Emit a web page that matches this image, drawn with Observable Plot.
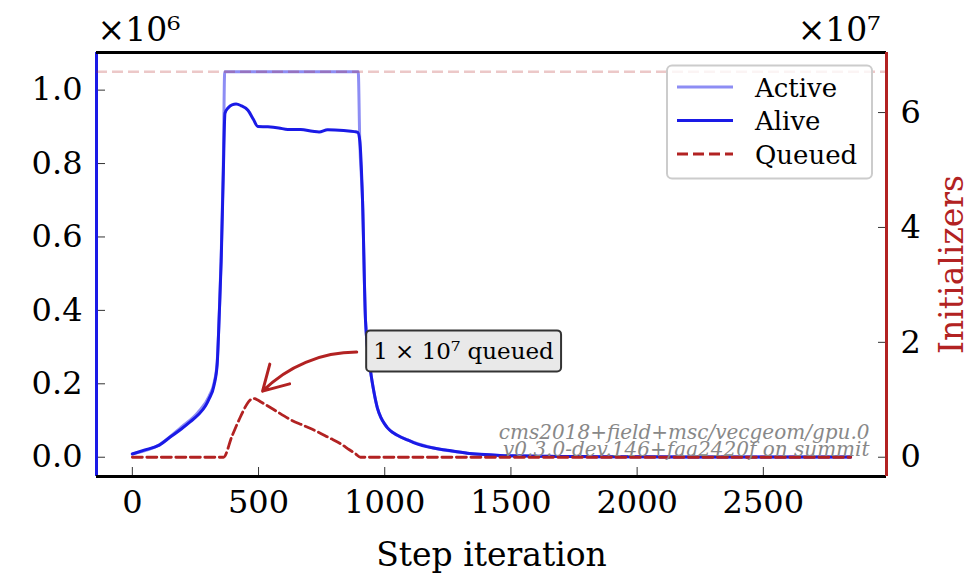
<!DOCTYPE html>
<html><head><meta charset="utf-8">
<script src="https://cdn.jsdelivr.net/npm/d3@7"></script>
<script src="https://cdn.jsdelivr.net/npm/@observablehq/plot@0.6"></script>
<style>
body{margin:0;background:#fff;}
#wrap{position:relative;width:980px;height:574px;overflow:hidden;}
#wrap svg{position:absolute;left:0;top:0;}
</style></head><body><div id="wrap"></div>
<script>
// ---- data ----
const aliveSteps = [0,50,107,150,194,230,260,290,304,324,336,345,352,360,367,380,395,411,430,458,480,497,537,580,616,667,714,740,774,837,880,893,901,912,924,944,958,971,985,1000,1011,1030,1050,1090,1114,1193,1248,1327,1378,1457,1509,1600,1700,1850,2000,2200,2400,2600,2846];
const aliveVals  = [0.009,0.020,0.033,0.055,0.077,0.097,0.115,0.140,0.159,0.197,0.252,0.400,0.534,0.760,0.937,0.952,0.960,0.962,0.958,0.945,0.920,0.901,0.900,0.897,0.893,0.893,0.888,0.886,0.892,0.890,0.887,0.885,0.863,0.700,0.370,0.234,0.175,0.134,0.108,0.090,0.080,0.068,0.060,0.047,0.040,0.025,0.019,0.011,0.008,0.005,0.004,0.003,0.002,0.0015,0.001,0.0008,0.0006,0.0005,0.0005];
const activeSteps = [0,107,194,260,304,324,336,345,352,360,366,895,901,912,924,944,958,971,985,1000,1011,1050,1090,1193,1327,1457,1600,1850,2200,2600,2846];
const activeVals  = [0.009,0.034,0.082,0.122,0.166,0.203,0.258,0.400,0.550,0.780,1.050,1.050,0.863,0.700,0.370,0.234,0.175,0.134,0.108,0.090,0.080,0.060,0.047,0.025,0.011,0.005,0.003,0.0015,0.0008,0.0005,0.0005];
const queuedSteps = [0,361,395,428,455,468,475,485,495,508,560,627,680,734,780,825,860,884,904,2846];
const queuedVals  = [0,0,0.37,0.70,0.93,1.0,1.024,1.02,1.0,0.966,0.83,0.653,0.55,0.444,0.338,0.235,0.13,0.061,0,0];
const capacity = 6.71;           // x10^7, right axis
const xTicks = [0,500,1000,1500,2000,2500];
const leftTicks = [0,0.2,0.4,0.6,0.8,1.0];
const rightTicks = [0,2,4,6];
const seriesNames = ["Active","Alive","Queued"];
const annotationText = "1 × 10⁷ queued";
const annotation = {x: 1312, y: 1.84};                       // text anchor, right-axis units
const arrowSpec = [{x1: 889, y1: 1.83, x2: 516, y2: 1.15}];  // right-axis units
const watermark = ["cms2018+field+msc/vecgeom/gpu.0", "v0.3.0-dev.146+faa2420f on summit"];
const leftExp = "×10⁶", rightExp = "×10⁷";
const xLabel = "Step iteration", rightLabel = "Initializers";

// ---- layout ----
const W = 980, H = 574;
const M = {marginTop: 52, marginRight: 94, marginBottom: 98, marginLeft: 96};
const xDomain = [-142, 2988];
const yLeftDomain = [-0.0525, 1.1025];
const yRightDomain = [-0.3355, 7.0455];
const BLUE = "#1a1ae6", LIGHT = "#8d8df4", RED = "#b22222";
const FONT = "'DejaVu Serif', serif";

const alive = aliveSteps.map((s, i) => ({step: s, v: aliveVals[i]}));
const active = activeSteps.map((s, i) => ({step: s, v: activeVals[i]}));
const queued = queuedSteps.map((s, i) => ({step: s, v: queuedVals[i]}));

const style = {fontFamily: FONT, fontSize: "32px", background: "transparent", overflow: "visible", color: "#000"};

const p1 = Plot.plot({
  width: W, height: H, ...M, style,
  x: {domain: xDomain},
  y: {domain: yLeftDomain},
  marks: [
    Plot.line(active, {x: "step", y: "v", stroke: LIGHT, strokeWidth: 3, curve: "monotone-x"}),
    Plot.line(alive, {x: "step", y: "v", stroke: BLUE, strokeWidth: 3, curve: "monotone-x"}),
    Plot.axisX({ticks: xTicks, tickSize: 0, tickPadding: 14, tickFormat: d => String(d), fontSize: 32, label: null}),
    Plot.axisX({ticks: xTicks, tickSize: 9, dy: -9, tickFormat: () => "", stroke: "#333", label: null}),
    Plot.axisY({ticks: leftTicks, tickSize: 0, tickPadding: 14, tickFormat: d => d.toFixed(1), fontSize: 32, label: null}),
    Plot.axisY({ticks: leftTicks, tickSize: 9, dx: 9, tickFormat: () => "", stroke: "#333", label: null}),
    Plot.ruleX([xDomain[0]], {stroke: BLUE, strokeWidth: 3}),
    Plot.text([xLabel], {text: d => d, frameAnchor: "bottom", lineAnchor: "bottom", dy: 89, fontSize: 33}),
    Plot.text([leftExp], {text: d => d, frameAnchor: "top-left", textAnchor: "start", lineAnchor: "bottom", dy: -12, dx: 1, fontSize: 33})
  ]
});

const p2 = Plot.plot({
  width: W, height: H, ...M, style,
  x: {domain: xDomain, axis: null},
  y: {domain: yRightDomain},
  marks: [
    Plot.ruleY([capacity], {stroke: RED, strokeOpacity: 0.25, strokeWidth: 2.5, strokeDasharray: "11,5"}),
    Plot.line(queued, {x: "step", y: "v", stroke: RED, strokeWidth: 2.8, strokeDasharray: "10,4.5", curve: "monotone-x"}),
    Plot.axisY({anchor: "right", ticks: rightTicks, tickSize: 0, tickPadding: 14, tickFormat: d => String(d), fontSize: 32, label: null}),
    Plot.axisY({anchor: "right", ticks: rightTicks, tickSize: 9, dx: -9, tickFormat: () => "", stroke: "#333", label: null}),
    Plot.ruleY([yRightDomain[0]], {stroke: "#000", strokeWidth: 3}),
    Plot.ruleY([yRightDomain[1]], {stroke: "#000", strokeWidth: 3}),
    Plot.ruleX([xDomain[1]], {stroke: RED, strokeWidth: 3}),
    Plot.text([rightLabel], {text: d => d, frameAnchor: "right", textAnchor: "middle", rotate: -90, lineAnchor: "bottom", dx: 76, fill: RED, fontSize: 33}),
    Plot.text([rightExp], {text: d => d, frameAnchor: "top-right", textAnchor: "end", lineAnchor: "bottom", dy: -12, dx: -6, fontSize: 33}),
    Plot.text([watermark.join("\n")], {text: d => d, frameAnchor: "bottom-right", textAnchor: "end", lineAnchor: "bottom", dx: -17, dy: -21, fontSize: 20, fontStyle: "italic", fill: "#888", lineHeight: 0.85}),
    Plot.arrow(arrowSpec, {x1: "x1", y1: "y1", x2: "x2", y2: "y2", bend: -22.5, stroke: RED, strokeWidth: 3, headLength: 14}),
    Plot.text([annotationText], {text: d => d, x: () => annotation.x, y: () => annotation.y, fontSize: 23, className: "annot"})
  ]
});

const wrap = document.getElementById("wrap");
wrap.appendChild(p1);
wrap.appendChild(p2);

// annotation box behind the text
const svg2 = d3.select(p2);
const tnode = svg2.select("g.annot text").node() || svg2.selectAll("text").filter(function(){return this.textContent === annotationText;}).node();
if (tnode) {
  const bb = tnode.getBBox();
  const g = d3.select(tnode.parentNode);
  const tr = d3.select(tnode).attr("transform");
  g.insert("rect", "text")
    .attr("transform", tr)
    .attr("x", bb.x - 7).attr("y", bb.y - 7.5)
    .attr("width", bb.width + 14).attr("height", bb.height + 15)
    .attr("rx", 4).attr("fill", "#e9e9e9").attr("stroke", "#333").attr("stroke-width", 2);
}

// legend
const leg = svg2.append("g").attr("font-family", FONT).attr("font-size", 26).attr("text-anchor", "start");
leg.append("rect").attr("x", 667).attr("y", 65.5).attr("width", 205).attr("height", 113).attr("rx", 5)
  .attr("fill", "#fff").attr("fill-opacity", 0.8).attr("stroke", "#ccc").attr("stroke-width", 2);
const legStyle = [{c: LIGHT, d: null}, {c: BLUE, d: null}, {c: RED, d: "11,5"}];
seriesNames.forEach((name, i) => {
  const y = 87 + i * 33.5;
  leg.append("line").attr("x1", 677).attr("x2", 733).attr("y1", y).attr("y2", y)
    .attr("stroke", legStyle[i].c).attr("stroke-width", 3).attr("stroke-dasharray", legStyle[i].d);
  leg.append("text").attr("x", 755).attr("y", y + 9.5).attr("text-anchor", "start").text(name);
});
</script></body></html>
